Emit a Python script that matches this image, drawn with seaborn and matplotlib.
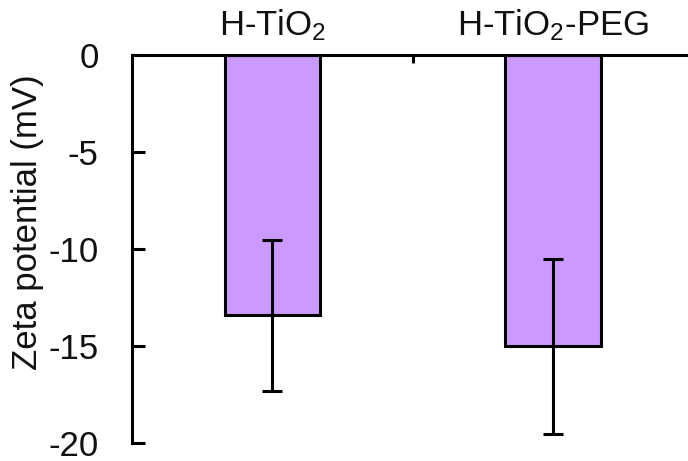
import matplotlib
matplotlib.use("Agg")
import matplotlib.pyplot as plt
import seaborn as sns
import pandas as pd

# Zeta potential measurements (mean ± SD)
samples = ["H-TiO$_2$", "H-TiO$_2$-PEG"]
zeta_mean = [-13.4, -15.0]
zeta_sd = [3.9, 4.5]
y_ticks = [0, -5, -10, -15, -20]

sns.set_theme(style="white")
plt.rcParams["font.family"] = ["Liberation Sans", "DejaVu Sans"]
plt.rcParams["mathtext.default"] = "regular"
plt.rcParams["axes.unicode_minus"] = False

df = pd.DataFrame({"sample": samples, "zeta": zeta_mean})

fig = plt.figure(figsize=(6.88, 4.61), dpi=100)
ax = fig.add_axes([0.192, 0.0384, 0.816, 0.8416])

sns.barplot(data=df, x="sample", y="zeta", color="#CC99FF", saturation=1,
            width=0.34, edgecolor="black", linewidth=2.2, errorbar=None, ax=ax)
ax.errorbar(range(len(samples)), zeta_mean, yerr=zeta_sd, fmt="none",
            ecolor="black", elinewidth=2.2, capsize=7, capthick=2.2, zorder=5)

ax.set_xlim(-0.5, 1.5)
ax.set_ylim(-20, 0)
ax.set_yticks(y_ticks)
ax.set_yticklabels([str(t) for t in y_ticks])
ax.set_ylabel("Zeta potential (mV)", fontsize=25, color="#111111")
ax.yaxis.set_label_coords(-0.187, 0.57)
ax.yaxis.label.set_va("center")
ax.set_xlabel("")

# category labels sit above the zero line
ax.xaxis.tick_top()
ax.set_xticks(range(len(samples)))
ax.set_xticklabels(samples)
ax.set_xticks([0.5], minor=True)
ax.tick_params(axis="x", which="major", length=0, pad=9, labelsize=25,
               labelcolor="#111111")
ax.tick_params(axis="x", which="minor", direction="in", length=6, width=2.2,
               color="black", top=True, bottom=False)
ax.tick_params(axis="y", direction="in", length=9, width=2.2, color="black",
               pad=24, labelsize=25, labelcolor="#111111", left=True)

for side in ["right", "bottom"]:
    ax.spines[side].set_visible(False)
for side in ["left", "top"]:
    ax.spines[side].set_linewidth(2.2)
    ax.spines[side].set_color("black")
ax.spines["left"].set_capstyle("projecting")

fig.savefig("out.png", dpi=100, facecolor="white")
